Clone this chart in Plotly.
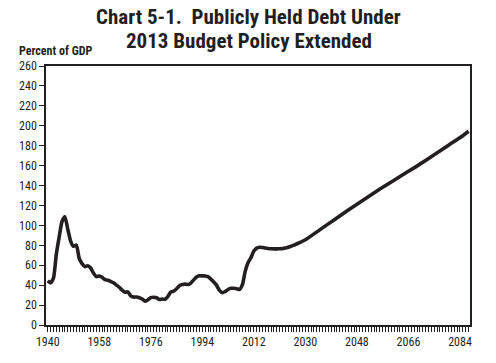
import plotly.graph_objects as go

years = [1940, 1941, 1942, 1943, 1944, 1945, 1946, 1947, 1948, 1949,
         1950, 1951, 1952, 1953, 1954, 1955, 1956, 1957, 1958, 1959,
         1960, 1961, 1962, 1963, 1964, 1965, 1966, 1967, 1968, 1969,
         1970, 1971, 1972, 1973, 1974, 1975, 1976, 1977, 1978, 1979,
         1980, 1981, 1982, 1983, 1984, 1985, 1986, 1987, 1988, 1989,
         1990, 1991, 1992, 1993, 1994, 1995, 1996, 1997, 1998, 1999,
         2000, 2001, 2002, 2003, 2004, 2005, 2006, 2007, 2008, 2009,
         2010, 2011, 2012, 2013, 2014, 2015, 2016, 2017, 2018, 2019,
         2020, 2021, 2022, 2023, 2024, 2025, 2026, 2028, 2030, 2035,
         2040, 2045, 2050, 2055, 2060, 2065, 2070, 2075, 2080, 2085, 2087]
debt = [44.2, 42.3, 47.0, 70.9, 88.3, 103.9, 108.7, 96.2, 84.3, 79.0,
        80.2, 66.9, 61.6, 58.6, 59.5, 57.2, 52.0, 48.6, 49.2, 47.9,
        45.6, 45.0, 43.7, 42.4, 40.0, 37.9, 34.9, 32.9, 33.3, 29.3,
        28.0, 28.1, 27.4, 26.1, 23.9, 25.3, 27.5, 27.8, 27.4, 25.6,
        26.1, 25.8, 28.7, 33.1, 34.0, 36.4, 39.5, 40.6, 41.0, 40.6,
        42.1, 45.3, 48.1, 49.4, 49.3, 49.2, 48.5, 46.1, 43.1, 39.8,
        34.7, 32.5, 33.6, 35.6, 36.8, 36.9, 36.5, 35.7, 40.5, 54.1,
        62.8, 67.7, 74.2, 77.2, 78.0, 77.8, 77.2, 76.8, 76.5, 76.4,
        76.4, 76.5, 76.7, 77.2, 78.0, 79.0, 80.2, 82.6, 85.5, 95.5,
        105.5, 115.5, 125.0, 134.5, 143.5, 152.5, 161.5, 171.0, 180.5, 190.0, 194.5]

x_ticks = [1940, 1958, 1976, 1994, 2012, 2030, 2048, 2066, 2084]
y_ticks = list(range(0, 261, 20))

title_lines = ["Chart 5-1.  Publicly Held Debt Under", "2013 Budget Policy Extended"]
y_title = "Percent of GDP"

FONT = "Roboto Condensed, Liberation Sans Narrow, DejaVu Sans Condensed, sans-serif"
INK = "#231f20"

fig = go.Figure()
fig.add_trace(go.Scatter(x=years, y=debt, mode="lines",
                         line=dict(color=INK, width=3.6, shape="spline", smoothing=0.6),
                         hoverinfo="skip", showlegend=False))

axis_common = dict(showgrid=False, zeroline=False, showline=True, linecolor=INK,
                   linewidth=1.5, mirror=True, ticks="outside", ticklen=5,
                   tickwidth=1.3, tickcolor=INK,
                   tickfont=dict(family=FONT, size=12, color=INK))

fig.update_xaxes(range=[1939.4, 2087.5], tickmode="array", tickvals=x_ticks,
                 minor=dict(dtick=1, tick0=1940, ticks="outside", ticklen=5,
                            tickwidth=1.1, tickcolor=INK),
                 **axis_common)
fig.update_yaxes(range=[0, 260], tickmode="array", tickvals=y_ticks, **axis_common)

H = 259.0
def py(p):
    return (325 - p) / H

annotations = [
    dict(text="<b>%s</b>" % title_lines[0], x=0.478, y=py(17), xref="paper", yref="paper",
         xanchor="center", yanchor="middle", showarrow=False,
         font=dict(family=FONT, size=21, color=INK)),
    dict(text="<b>%s</b>" % title_lines[1], x=0.478, y=py(41), xref="paper", yref="paper",
         xanchor="center", yanchor="middle", showarrow=False,
         font=dict(family=FONT, size=21, color=INK)),
    dict(text="<b>%s</b>" % y_title, x=-0.068, y=py(51), xref="paper", yref="paper",
         xanchor="left", yanchor="middle", showarrow=False,
         font=dict(family=FONT, size=12, color=INK)),
]

fig.update_layout(width=496, height=363, margin=dict(l=46, r=26, t=66, b=38),
                  paper_bgcolor="white", plot_bgcolor="white",
                  annotations=annotations)

fig.write_html("out.html", config={"displayModeBar": False},
               post_script="document.body.style.margin='0';")
